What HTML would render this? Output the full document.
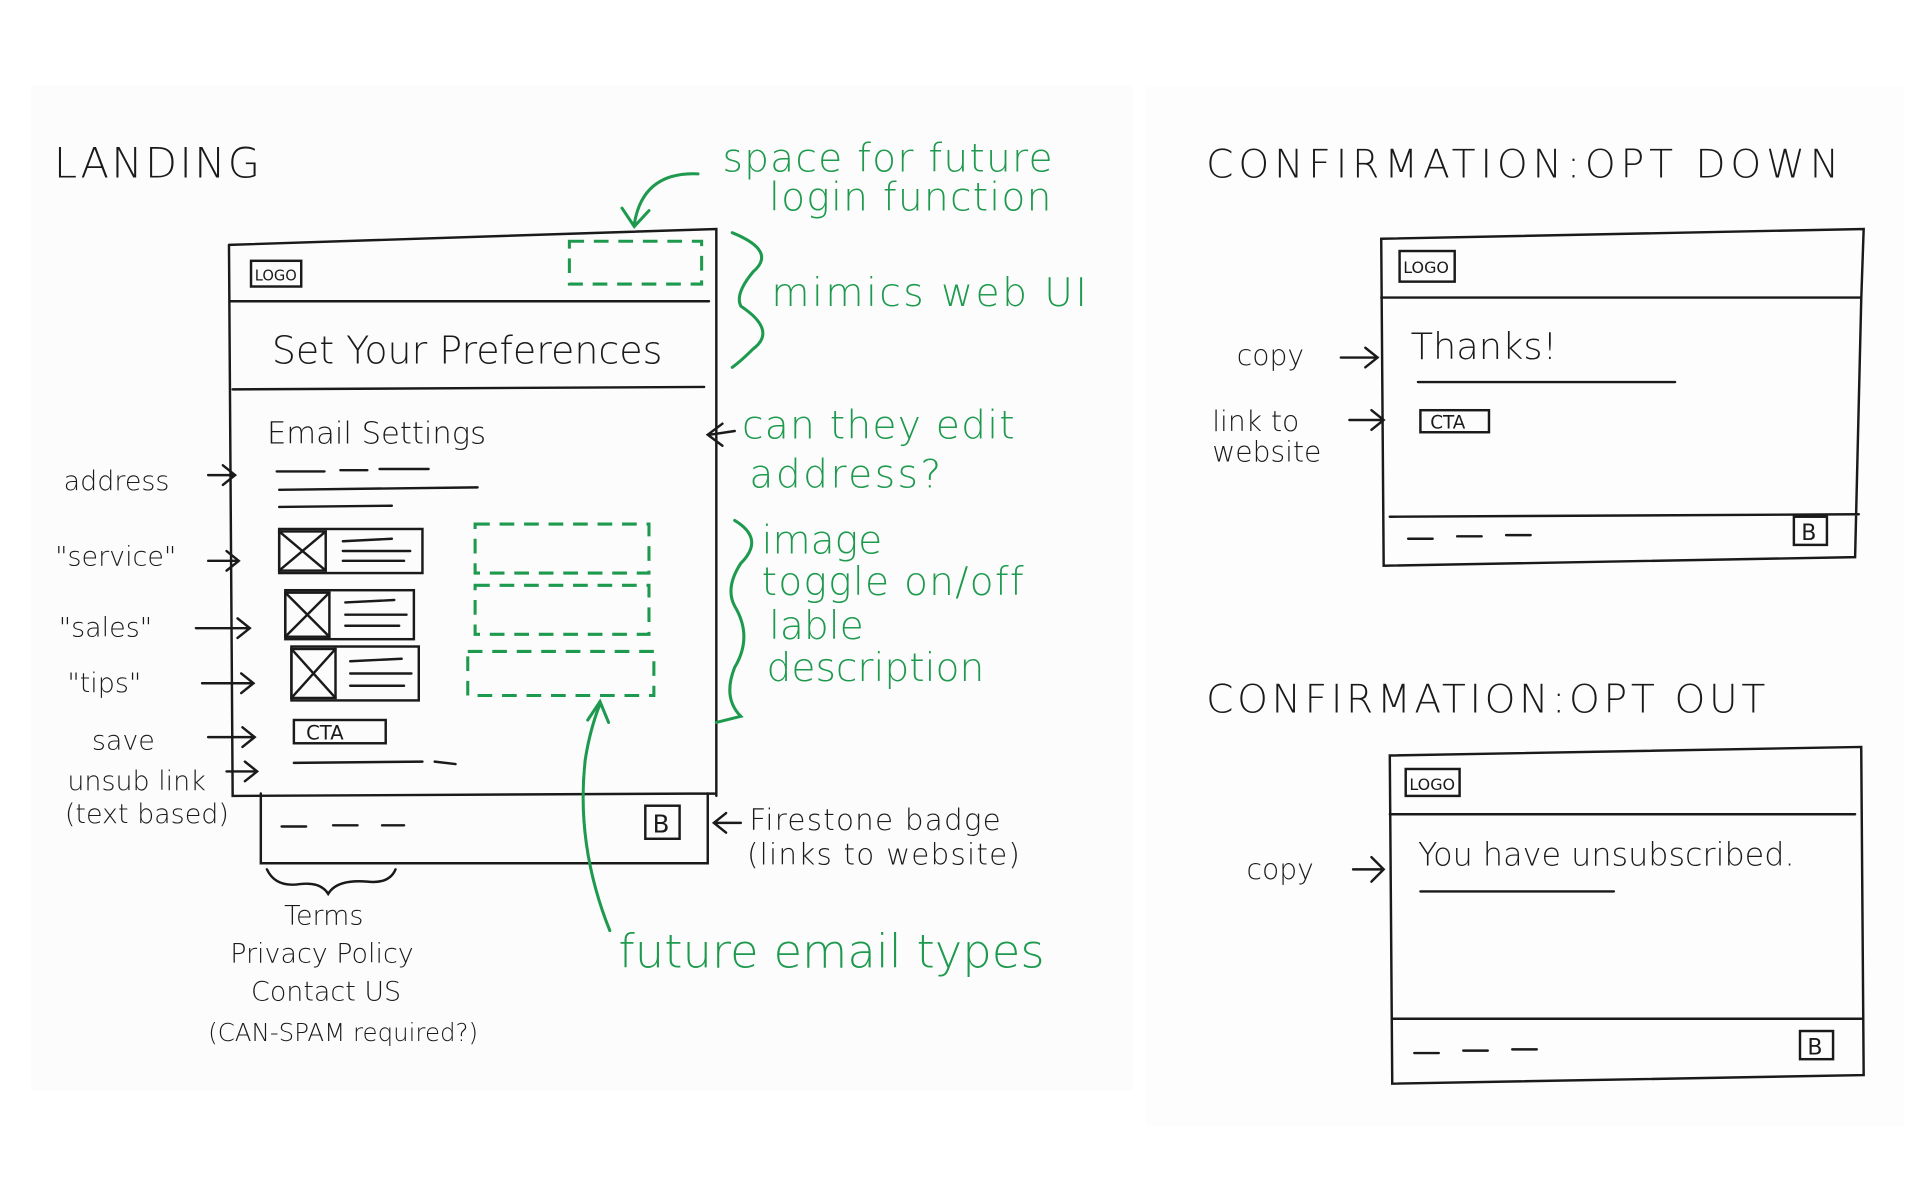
<!DOCTYPE html>
<html><head><meta charset="utf-8"><style>
html,body{margin:0;padding:0;background:#fff;}
svg{display:block;}
text{font-family:"DejaVu Sans","Liberation Sans",sans-serif;}
.k{fill:#1a1a1a;}
.g{fill:#1e9a4e;}
.ks{stroke:#1a1a1a;fill:none;stroke-width:2;stroke-linecap:round;}
.gs{stroke:#1e9a4e;fill:none;stroke-width:2.5;stroke-linecap:round;}
.gd{stroke:#1e9a4e;fill:none;stroke-width:2.5;stroke-dasharray:12 8;}
</style></head><body>
<svg width="1920" height="1200" viewBox="0 0 1568 980" xmlns="http://www.w3.org/2000/svg">
<rect x="0" y="0" width="1568" height="980" fill="#fff"/>
<rect x="25" y="70" width="900" height="820" fill="#fcfcfc"/>
<rect x="935" y="70" width="620" height="850" fill="#fdfdfd"/>

<!-- LANDING -->
<text x="44" y="145" class="k" font-size="34" font-weight="300" letter-spacing="2">LANDING</text>
<path class="ks" d="M187 200 L585 187 L585 650 M187 200 L190 650 L585 648"/>
<path class="ks" d="M188 246 L579 246 M190 318 L575 316"/>
<rect class="ks" x="205" y="213" width="41" height="21"/>
<text x="208" y="229" class="k" font-size="12">LOGO</text>
<rect class="gd" x="465" y="197" width="108" height="35"/>
<text x="222" y="297" class="k" font-size="31" font-weight="300">Set Your Preferences</text>
<text x="218" y="362" class="k" font-size="25" font-weight="300">Email Settings</text>
<path class="ks" d="M226 385 L265 385 M278 384 L300 384 M310 383 L350 383 M228 400 L390 398 M228 414 L320 413"/>
<g>
<rect class="ks" x="228" y="432" width="117" height="36"/><rect class="ks" x="228" y="434" width="38" height="32"/><path class="ks" d="M228 434 L266 466 M266 434 L228 466 M280 442 L320 440 M280 450 L335 450 M280 458 L330 458"/>
<rect class="ks" x="233" y="482" width="105" height="40"/><rect class="ks" x="233" y="484" width="36" height="36"/><path class="ks" d="M233 484 L269 520 M269 484 L233 520 M282 492 L322 490 M282 502 L332 502 M282 511 L326 511"/>
<rect class="ks" x="238" y="528" width="104" height="44"/><rect class="ks" x="238" y="530" width="36" height="40"/><path class="ks" d="M238 530 L274 570 M274 530 L238 570 M286 540 L328 538 M286 550 L336 550 M286 560 L330 560"/>
</g>
<rect class="gd" x="388" y="428" width="142" height="40"/>
<rect class="gd" x="388" y="478" width="142" height="40"/>
<rect class="gd" x="382" y="532" width="152" height="36"/>
<rect class="ks" x="240" y="588" width="75" height="19"/>
<text x="250" y="604" class="k" font-size="16">CTA</text>
<path class="ks" d="M240 623 L345 622 M355 622 L372 624"/>
<path class="ks" d="M213 648 L213 705 L578 705 L578 648"/>
<path class="ks" d="M230 675 L250 675 M272 674 L292 674 M312 674 L330 674"/>
<rect class="ks" x="527" y="658" width="28" height="27"/>
<text x="533" y="680" class="k" font-size="20">B</text>
<g class="k" font-size="22" font-weight="300">
<text x="52" y="400">address</text>
<text x="45" y="462">"service"</text>
<text x="48" y="520">"sales"</text>
<text x="55" y="565">"tips"</text>
<text x="75" y="612">save</text>
<text x="55" y="645">unsub link</text>
<text x="53" y="672">(text based)</text>
</g>
<path class="ks" d="M170 388 L192 388 M182 380 L192 388 L182 396"/>
<path class="ks" d="M170 458 L195 458 M185 450 L195 458 L185 466"/>
<path class="ks" d="M160 513 L204 513 M194 505 L204 513 L194 521"/>
<path class="ks" d="M165 558 L207 558 M197 550 L207 558 L197 566"/>
<path class="ks" d="M170 602 L208 602 M198 594 L208 602 L198 610"/>
<path class="ks" d="M185 630 L210 630 M200 622 L210 630 L200 638"/>
<path class="ks" d="M218 710 Q225 725 245 722 Q262 720 268 730 Q275 718 300 720 Q318 722 323 710"/>
<g class="k" font-size="22" font-weight="300">
<text x="232" y="755">Terms</text>
<text x="188" y="786">Privacy Policy</text>
<text x="205" y="817">Contact US</text>
<text x="170" y="850" font-size="20">(CAN-SPAM required?)</text>
</g>
<g class="g" font-size="32" font-weight="300">
<text x="590" y="140" letter-spacing="1">space for future</text>
<text x="628" y="172" letter-spacing="1">login function</text>
<text x="630" y="250" letter-spacing="2">mimics web UI</text>
<text x="606" y="358" letter-spacing="1">can they edit</text>
<text x="612" y="398" letter-spacing="2">address?</text>
<text x="622" y="452">image</text>
<text x="622" y="486" letter-spacing="1">toggle on/off</text>
<text x="628" y="522">lable</text>
<text x="626" y="556">description</text>
<text x="505" y="790" font-size="38">future email types</text>
</g>
<path class="gs" d="M570 142 Q525 140 518 183 M508 170 L518 185 L530 172"/>
<path class="gs" d="M598 190 Q635 205 615 222 Q600 240 605 250 Q635 270 615 285 Q605 295 598 300"/>
<path class="gs" d="M600 425 Q625 440 605 460 Q592 480 600 495 Q615 520 600 545 Q590 570 605 585 L585 590"/>
<path class="gs" d="M498 760 Q470 690 478 620 Q482 595 490 575 M480 588 L490 573 L497 590"/>
<path class="ks" d="M600 352 L580 355 M590 346 L578 355 L590 364"/>
<path class="ks" d="M605 672 L583 672 M593 664 L583 672 L593 680"/>
<g class="k" font-size="24" font-weight="300">
<text x="612" y="678" letter-spacing="1">Firestone badge</text>
<text x="610" y="706" letter-spacing="1">(links to website)</text>
</g>

<!-- OPT DOWN -->
<text x="985" y="145" class="k" font-size="32" font-weight="300" letter-spacing="4">CONFIRMATION:OPT DOWN</text>
<path class="ks" d="M1128 195 L1522 187 L1520 245 L1515 455 L1130 462 Z M1128 243 L1520 243 M1135 422 L1518 420"/>
<rect class="ks" x="1143" y="205" width="45" height="25"/>
<text x="1146" y="223" class="k" font-size="13">LOGO</text>
<text x="1152" y="293" class="k" font-size="30" font-weight="300">Thanks!</text>
<path class="ks" d="M1158 312 L1368 312"/>
<rect class="ks" x="1160" y="335" width="56" height="18"/>
<text x="1168" y="350" class="k" font-size="15">CTA</text>
<path class="ks" d="M1150 440 L1170 440 M1190 438 L1210 438 M1230 437 L1250 437"/>
<rect class="ks" x="1465" y="422" width="27" height="23"/>
<text x="1471" y="441" class="k" font-size="18">B</text>
<g class="k" font-size="23" font-weight="300">
<text x="1010" y="298">copy</text>
<text x="990" y="352">link to</text>
<text x="990" y="377">website</text>
<text x="1018" y="718">copy</text>
</g>
<path class="ks" d="M1095 292 L1125 292 M1115 284 L1125 292 L1115 300"/>
<path class="ks" d="M1102 343 L1130 343 M1120 335 L1130 343 L1120 351"/>

<!-- OPT OUT -->
<text x="985" y="582" class="k" font-size="32" font-weight="300" letter-spacing="3">CONFIRMATION:OPT OUT</text>
<path class="ks" d="M1135 617 L1520 610 L1522 878 L1137 885 Z M1135 665 L1515 665 M1137 832 L1520 832"/>
<rect class="ks" x="1148" y="628" width="44" height="22"/>
<text x="1151" y="645" class="k" font-size="13">LOGO</text>
<text x="1158" y="707" class="k" font-size="26" font-weight="300">You have unsubscribed.</text>
<path class="ks" d="M1160 728 L1318 728"/>
<path class="ks" d="M1105 710 L1130 710 M1120 700 L1130 710 L1120 720"/>
<path class="ks" d="M1155 860 L1175 860 M1195 858 L1215 858 M1235 857 L1255 857"/>
<rect class="ks" x="1470" y="842" width="27" height="23"/>
<text x="1476" y="861" class="k" font-size="18">B</text>
</svg>
</body></html>
